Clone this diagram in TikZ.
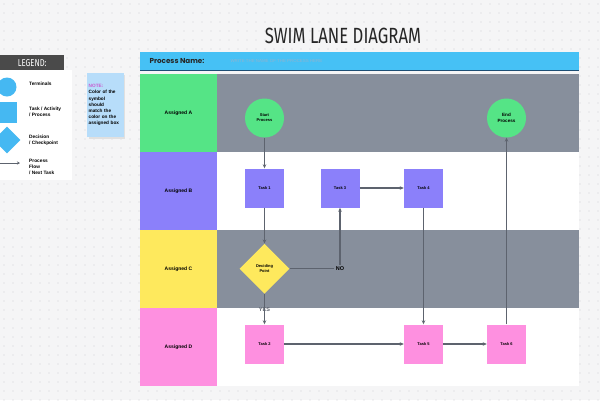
\documentclass[tikz,border=0pt]{standalone}
\usepackage{fontspec}
\setmainfont{Liberation Sans}
\newfontfamily\titlefont[FakeStretch=0.76]{Fira Sans}
\newfontfamily\namefont{Poppins}
\usetikzlibrary{positioning,arrows.meta,shapes.geometric}
\definecolor{laneA}{HTML}{55E486}
\definecolor{laneB}{HTML}{8B80FA}
\definecolor{laneC}{HTML}{FEE95D}
\definecolor{laneD}{HTML}{FE90E0}
\definecolor{lanegray}{HTML}{878F9C}
\definecolor{barblue}{HTML}{46C1F5}
\definecolor{bardark}{HTML}{1D4E74}
\definecolor{legendblue}{HTML}{45B8F2}
\definecolor{legenddark}{HTML}{4A4A4A}
\definecolor{notefill}{HTML}{B7DDFA}
\definecolor{notepink}{HTML}{C95BD0}
\definecolor{flow}{HTML}{5D636E}
\definecolor{paper}{HTML}{F5F5F6}
\definecolor{griddot}{HTML}{D2D2D6}
\definecolor{holdtext}{HTML}{8FB3CF}

\begin{document}
\begin{tikzpicture}[
  x=1pt, y=-1pt,
  every node/.style={font=\fontsize{5}{6}\selectfont\bfseries},
  lanelabel/.style={rectangle,minimum width=77pt,minimum height=78pt,inner sep=0pt},
  terminal/.style={circle,fill=laneA,minimum size=39pt,inner sep=0pt,align=center,font=\fontsize{4}{5}\selectfont\bfseries},
  task/.style={rectangle,fill=laneB,minimum size=39pt,inner sep=0pt,font=\fontsize{4}{5}\selectfont\bfseries},
  decision/.style={diamond,fill=laneC,minimum size=50pt,inner sep=0pt,align=center,font=\fontsize{4}{5}\selectfont\bfseries},
  legendtext/.style={anchor=west,align=left,inner sep=0pt,font=\fontsize{4.8}{6.3}\selectfont\bfseries},
  flowline/.style={-{Stealth[length=4pt,width=3.5pt]},flow,line width=1.3pt},
  answer/.style={inner sep=1.5pt,font=\fontsize{5.5}{6}\selectfont\bfseries}
]
\useasboundingbox (0,0) rectangle (600,400);
% Background
\fill[paper] (0,0) rectangle (600,400);
\foreach \i in {4,13,...,600} {
  \foreach \j in {4,13,...,400} {
    \fill[griddot] (\i,\j) circle (0.55);
  }
}

% Title and process bar
\node[font=\titlefont\fontsize{22}{24}\selectfont, text=black!85] (title) at (343,36) {SWIM LANE DIAGRAM};
\fill[barblue] (140,52) rectangle (579,70);
\draw[bardark, line width=1.6pt] (140,70.5) -- (579,70.5);
\node[anchor=west, font=\namefont\fontsize{7.2}{8}\selectfont\bfseries, text=black!85] (pname) at (146,61) {Process Name:};
\node[anchor=west, font=\fontsize{4.4}{5}\selectfont, text=holdtext] (phold) at (227,61.3) {WRITE THE NAME OF THE PROCESS HERE};

% Lanes
\fill[lanegray] (217,74) rectangle (579,152);
\fill[white] (217,152) rectangle (579,230);
\fill[lanegray] (217,230) rectangle (579,308);
\fill[white] (217,308) rectangle (579,386);
\node[lanelabel, fill=laneA] (labA) at (178.5,113) {Assigned A};
\node[lanelabel, fill=laneB] (labB) at (178.5,191) {Assigned B};
\node[lanelabel, fill=laneC] (labC) at (178.5,269) {Assigned C};
\node[lanelabel, fill=laneD] (labD) at (178.5,347) {Assigned D};

% Steps
\node[terminal] (start) at (264.5,118) {Start\\Process};
\node[terminal, font=\fontsize{4.6}{5.5}\selectfont\bfseries] (end) at (506.5,118) {End\\Process};
\node[task] (t1) at (264.5,188) {Task 1};
\node[task] (t3) at (340,188) {Task 3};
\node[task] (t4) at (423.5,188) {Task 4};
\node[decision] (dec) at (264.5,268.7) {Deciding\\Point};
\node[task, fill=laneD] (t2) at (264.5,344) {Task 2};
\node[task, fill=laneD] (t5) at (423.5,344) {Task 5};
\node[task, fill=laneD] (t6) at (506.5,344) {Task 6};
\node[answer] (no) at (340,268.7) {NO};

% Flow
\draw[flowline] (start) -- (t1);
\draw[flowline] (t1) -- (dec);
\draw[flow, line width=1.3pt] (dec) -- (no);
\draw[flowline] (no) -- (t3);
\draw[flowline] (dec) -- node[answer]{YES} (t2);
\draw[flowline] (t3) -- (t4);
\draw[flowline] (t4) -- (t5);
\draw[flowline] (t2) -- (t5);
\draw[flowline] (t5) -- (t6);
\draw[flowline] (t6) -- (end);

% Legend
\fill[white] (0,70) rectangle (72,180);
\node[anchor=north west, fill=legenddark, text=white, minimum width=64pt, minimum height=15pt, font=\titlefont\fontsize{10}{12}\selectfont] (legend) at (0,55) {LEGEND:};
\node[circle, fill=legendblue, minimum size=19pt, inner sep=0pt] (lterm) at (7,87) {};
\node[rectangle, fill=legendblue, minimum width=20pt, minimum height=21pt, inner sep=0pt] (ltask) at (7,112.5) {};
\node[diamond, fill=legendblue, minimum size=27pt, inner sep=0pt] (ldec) at (7,140) {};
\coordinate (larrow) at (-2,163);
\node[legendtext] (termtext) at (29,84) {Terminals};
\node[legendtext] (tasktext) at (29,112) {Task / Activity\\/ Process};
\node[legendtext] (dectext) at (29,140) {Decision\\/ Checkpoint};
\node[legendtext] (flowtext) at (29,167) {Process\\Flow\\/ Next Task};
\draw[-{Stealth[length=3pt,width=3pt]}, flow, line width=0.8pt] (larrow) -- ([xshift=-9pt]flowtext.west |- larrow);

% Note
\fill[black!12] (88.5,74.5) rectangle (124.5,138.5);
\node[anchor=north west, fill=notefill, minimum width=36pt, minimum height=64pt, text width=34pt, inner sep=1.5pt, align=left, font=\fontsize{4.7}{6.2}\selectfont\bfseries] (note) at (87,73) {\textcolor{notepink}{NOTE:}\\Color of the\\symbol\\should\\match the\\color on the\\assigned box};
\end{tikzpicture}
\end{document}
